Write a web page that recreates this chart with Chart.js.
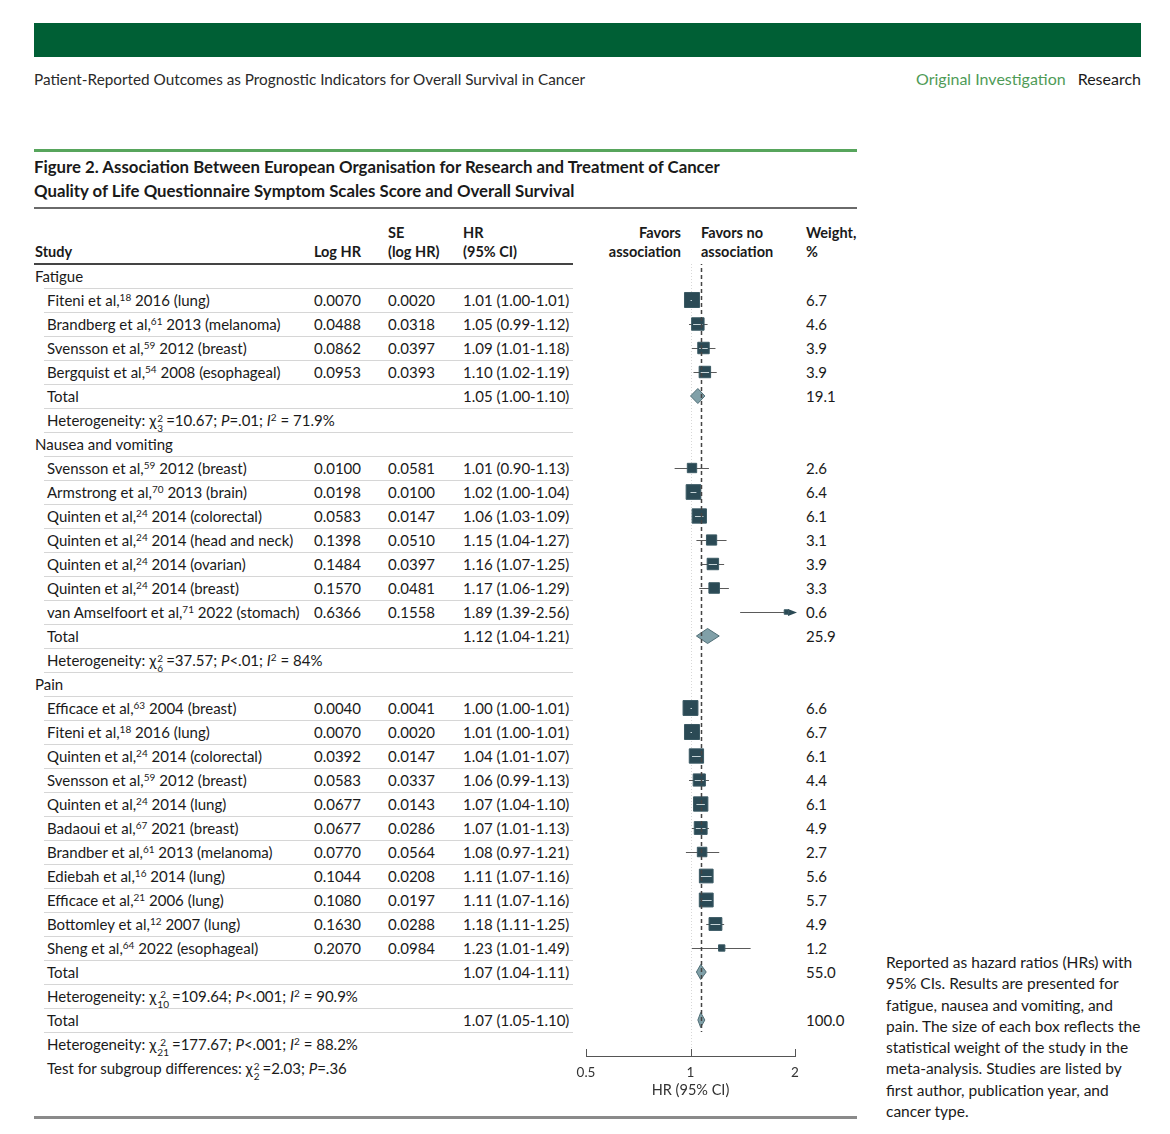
<!DOCTYPE html>
<html>
<head>
<meta charset="utf-8">
<script src="https://cdn.jsdelivr.net/npm/chart.js@4/dist/chart.umd.min.js"></script>
<style>
  body { margin: 0; background: #fff; font-family: Lato, "Open Sans", sans-serif; color: #1a1a1a; }
  #page { position: relative; width: 1170px; height: 1134px; overflow: hidden; }
  .abs { position: absolute; white-space: nowrap; }
  .hdr { font-size: 15.3px; line-height: 20px; color: #2a2a2a; }
  .title { font-size: 16.8px; line-height: 24px; font-weight: 700; color: #1a1a1a; }
  .colh { font-size: 14.5px; line-height: 19px; font-weight: 700; color: #1a1a1a; }
  .cell { font-size: 15px; line-height: 20px; height: 20px; }
  .sep { position: absolute; height: 1px; background: #d6d6d6; }
  sup { font-size: 10px; vertical-align: 5px; line-height: 0; }
  .ss { display: inline-block; vertical-align: -6px; font-size: 10px; line-height: 10px; margin: 0 3px 0 1px; text-align: center; }
  .ss span { display: block; }
  #note { font-size: 15.5px; line-height: 21.3px; color: #1a1a1a; white-space: normal; width: 258px; }
  #forest { position: absolute; left: 566px; top: 264px; }
</style>
</head>
<body>
<div id="page">
  <div class="abs" style="left:34px;top:23px;width:1107px;height:34px;background:#005f35"></div>
  <div class="abs hdr" style="left:34px;top:69px">Patient-Reported Outcomes as Prognostic Indicators for Overall Survival in Cancer</div>
  <div class="abs hdr" style="right:29px;top:69px;font-size:16px"><span style="color:#4f9b57">Original Investigation</span><span style="display:inline-block;width:12px"></span><span style="color:#1a1a1a">Research</span></div>

  <div class="abs" style="left:34px;top:149px;width:823px;height:3px;background:#57a55c"></div>
  <div class="abs title" style="left:34px;top:155px">Figure 2. Association Between European Organisation for Research and Treatment of Cancer<br>Quality of Life Questionnaire Symptom Scales Score and Overall Survival</div>
  <div class="abs" style="left:34px;top:207px;width:823px;height:2px;background:#6a6a6a"></div>

  <div class="abs colh" style="left:35px;top:242px">Study</div>
  <div class="abs colh" style="left:290px;width:71px;text-align:right;top:242px">Log HR</div>
  <div class="abs colh" style="left:388px;top:223px">SE<br>(log HR)</div>
  <div class="abs colh" style="left:463px;top:223px">HR<br>(95% CI)</div>
  <div class="abs colh" style="left:570px;width:111px;text-align:right;top:223px">Favors<br>association</div>
  <div class="abs colh" style="left:701px;top:223px">Favors no<br>association</div>
  <div class="abs colh" style="left:806px;top:223px">Weight,<br>%</div>
  <div class="abs" style="left:34px;top:263px;width:539px;height:2px;background:#444"></div>

  <div id="rows"></div>
  <canvas id="forest" width="250" height="836"></canvas>

  <div class="abs" id="note" style="left:886px;top:952px">Reported as hazard ratios (HRs) with 95% CIs. Results are presented for fatigue, nausea and vomiting, and pain. The size of each box reflects the statistical weight of the study in the meta-analysis. Studies are listed by first author, publication year, and cancer type.</div>

  <div class="abs" style="left:34px;top:1116px;width:823px;height:3px;background:#8a8a8a"></div>
</div>

<script>
// groups and studies
const groupNames = ['Fatigue', 'Nausea and vomiting', 'Pain'];
const groupSizes = [4, 7, 11];

const studyAuthors = ['Fiteni et al,', 'Brandberg et al,', 'Svensson et al,', 'Bergquist et al,',
  'Svensson et al,', 'Armstrong et al,', 'Quinten et al,', 'Quinten et al,', 'Quinten et al,', 'Quinten et al,', 'van Amselfoort et al,',
  'Efficace et al,', 'Fiteni et al,', 'Quinten et al,', 'Svensson et al,', 'Quinten et al,', 'Badaoui et al,', 'Brandber et al,',
  'Ediebah et al,', 'Efficace et al,', 'Bottomley et al,', 'Sheng et al,'];
const studyRefs = ['18', '61', '59', '54', '59', '70', '24', '24', '24', '24', '71',
  '63', '18', '24', '59', '24', '67', '61', '16', '21', '12', '64'];
const studyYears = ['2016', '2013', '2012', '2008', '2012', '2013', '2014', '2014', '2014', '2014', '2022',
  '2004', '2016', '2014', '2012', '2014', '2021', '2013', '2014', '2006', '2007', '2022'];
const studyCancers = ['lung', 'melanoma', 'breast', 'esophageal', 'breast', 'brain', 'colorectal', 'head and neck', 'ovarian', 'breast', 'stomach',
  'breast', 'lung', 'colorectal', 'breast', 'lung', 'breast', 'melanoma', 'lung', 'lung', 'lung', 'esophageal'];

const logHR = [0.0070, 0.0488, 0.0862, 0.0953,
  0.0100, 0.0198, 0.0583, 0.1398, 0.1484, 0.1570, 0.6366,
  0.0040, 0.0070, 0.0392, 0.0583, 0.0677, 0.0677, 0.0770, 0.1044, 0.1080, 0.1630, 0.2070];
const seLogHR = [0.0020, 0.0318, 0.0397, 0.0393,
  0.0581, 0.0100, 0.0147, 0.0510, 0.0397, 0.0481, 0.1558,
  0.0041, 0.0020, 0.0147, 0.0337, 0.0143, 0.0286, 0.0564, 0.0208, 0.0197, 0.0288, 0.0984];
const hr = [1.01, 1.05, 1.09, 1.10,
  1.01, 1.02, 1.06, 1.15, 1.16, 1.17, 1.89,
  1.00, 1.01, 1.04, 1.06, 1.07, 1.07, 1.08, 1.11, 1.11, 1.18, 1.23];
const hrLow = [1.00, 0.99, 1.01, 1.02,
  0.90, 1.00, 1.03, 1.04, 1.07, 1.06, 1.39,
  1.00, 1.00, 1.01, 0.99, 1.04, 1.01, 0.97, 1.07, 1.07, 1.11, 1.01];
const hrHigh = [1.01, 1.12, 1.18, 1.19,
  1.13, 1.04, 1.09, 1.27, 1.25, 1.29, 2.56,
  1.01, 1.01, 1.07, 1.13, 1.10, 1.13, 1.21, 1.16, 1.16, 1.25, 1.49];
const weights = [6.7, 4.6, 3.9, 3.9,
  2.6, 6.4, 6.1, 3.1, 3.9, 3.3, 0.6,
  6.6, 6.7, 6.1, 4.4, 6.1, 4.9, 2.7, 5.6, 5.7, 4.9, 1.2];

// subgroup totals
const subtotalHR = [1.05, 1.12, 1.07];
const subtotalLow = [1.00, 1.04, 1.04];
const subtotalHigh = [1.10, 1.21, 1.11];
const subtotalWeight = [19.1, 25.9, 55.0];
const hetDf = [3, 6, 10];
const hetChi = ['10.67', '37.57', '109.64'];
const hetP = ['=.01', '<.01', '<.001'];
const hetI2 = ['71.9%', '84%', '90.9%'];

// overall
const overallHR = 1.07, overallLow = 1.05, overallHigh = 1.10, overallWeight = 100.0;
const overallDf = 21, overallChi = '177.67', overallP = '<.001', overallI2 = '88.2%';
const testDf = 2, testChi = '2.03', testP = '=.36';

const xTicks = [0.5, 1, 2];
const xMin = 0.5, xMax = 2;

// build row list
const rows = [];
let si = 0;
groupNames.forEach((g, gi) => {
  rows.push({ kind: 'group', g: gi });
  for (let k = 0; k < groupSizes[gi]; k++) rows.push({ kind: 'study', s: si++ });
  rows.push({ kind: 'total', g: gi });
  rows.push({ kind: 'het', g: gi });
});
rows.push({ kind: 'overall' });
rows.push({ kind: 'overallHet' });
rows.push({ kind: 'test' });

const boxSide = w => 5.8 * Math.sqrt(w);
const fmtCI = (a, b, c) => `${a.toFixed(2)} (${b.toFixed(2)}-${c.toFixed(2)})`;
const chi = df => `χ<span class="ss"><span>2</span><span>${df}</span></span>`;
const eq = ' = ';

const squarePts = [], squareR = [];
rows.forEach((r, i) => {
  if (r.kind === 'study') {
    squarePts.push({ x: hr[r.s], y: i });
    squareR.push(boxSide(weights[r.s]) / Math.SQRT2);
  }
});

const forestPlugin = {
  id: 'forest',
  beforeDatasetsDraw(chart) {
    const { ctx, chartArea, scales: { x, y } } = chart;
    ctx.save();
    // faint line at HR = 1
    ctx.strokeStyle = '#d8d8d8';
    ctx.lineWidth = 1;
    ctx.setLineDash([1, 2]);
    ctx.beginPath();
    ctx.moveTo(Math.round(x.getPixelForValue(1)) + 0.5, chartArea.top);
    ctx.lineTo(Math.round(x.getPixelForValue(1)) + 0.5, chartArea.bottom);
    ctx.stroke();
    ctx.setLineDash([]);
    // whiskers
    ctx.strokeStyle = '#5a5a5a';
    rows.forEach((r, i) => {
      if (r.kind !== 'study') return;
      const py = Math.round(y.getPixelForValue(i)) + 0.5;
      const x1 = x.getPixelForValue(Math.max(hrLow[r.s], xMin));
      const over = hrHigh[r.s] > xMax;
      const x2 = over ? x.getPixelForValue(xMax) + 2 : x.getPixelForValue(hrHigh[r.s]);
      ctx.beginPath();
      ctx.moveTo(x1, py);
      ctx.lineTo(x2 - (over ? 6 : 0), py);
      ctx.stroke();
      if (over) {
        ctx.fillStyle = '#2b4a55';
        ctx.beginPath();
        ctx.moveTo(x2, py);
        ctx.lineTo(x2 - 9, py - 3.5);
        ctx.lineTo(x2 - 9, py + 3.5);
        ctx.closePath();
        ctx.fill();
      }
    });
    ctx.restore();
  },
  afterDatasetsDraw(chart) {
    const { ctx, chartArea, scales: { x, y } } = chart;
    ctx.save();
    // CI segment seen inside each box
    ctx.strokeStyle = '#c5d3d7';
    ctx.lineWidth = 1;
    rows.forEach((r, i) => {
      if (r.kind !== 'study') return;
      const half = boxSide(weights[r.s]) / 2 - 1.5;
      const cx = x.getPixelForValue(hr[r.s]);
      const a = Math.max(x.getPixelForValue(hrLow[r.s]), cx - half);
      const b = Math.min(x.getPixelForValue(Math.min(hrHigh[r.s], xMax)), cx + half);
      if (b - a < 1 || half < 4) return;
      const py = Math.round(y.getPixelForValue(i)) + 0.5;
      ctx.beginPath();
      ctx.moveTo(a, py);
      ctx.lineTo(b, py);
      ctx.stroke();
    });
    // diamonds
    const diamond = (c, lo, hi, i) => {
      const py = y.getPixelForValue(i);
      ctx.beginPath();
      ctx.moveTo(x.getPixelForValue(lo), py);
      ctx.lineTo(x.getPixelForValue(c), py - 7.5);
      ctx.lineTo(x.getPixelForValue(hi), py);
      ctx.lineTo(x.getPixelForValue(c), py + 7.5);
      ctx.closePath();
      ctx.fillStyle = '#80a0a8';
      ctx.fill();
      ctx.strokeStyle = '#506e76';
      ctx.stroke();
    };
    let overallRow = 0;
    rows.forEach((r, i) => {
      if (r.kind === 'total') diamond(subtotalHR[r.g], subtotalLow[r.g], subtotalHigh[r.g], i);
      if (r.kind === 'overall') { diamond(overallHR, overallLow, overallHigh, i); overallRow = i; }
    });
    // dashed line at the overall estimate
    const dx = Math.round(x.getPixelForValue(overallHR)) + 0.5;
    ctx.strokeStyle = '#444';
    ctx.lineWidth = 1.5;
    ctx.setLineDash([4, 3]);
    ctx.beginPath();
    ctx.moveTo(dx, chartArea.top - 3);
    ctx.lineTo(dx, y.getPixelForValue(overallRow + 0.5));
    ctx.stroke();
    ctx.setLineDash([]);
    // upward tick marks on the axis
    ctx.strokeStyle = '#555';
    ctx.lineWidth = 1;
    xTicks.forEach(v => {
      const tx = Math.round(x.getPixelForValue(v)) + 0.5;
      ctx.beginPath();
      ctx.moveTo(tx, chartArea.bottom - 7);
      ctx.lineTo(tx, chartArea.bottom);
      ctx.stroke();
    });
    ctx.restore();
  }
};

Chart.defaults.font.family = 'Lato';
const chart = new Chart(document.getElementById('forest'), {
  type: 'scatter',
  data: {
    datasets: [{
      data: squarePts,
      pointStyle: 'rect',
      pointRadius: squareR,
      pointHoverRadius: squareR,
      backgroundColor: '#2b4a55',
      borderColor: '#3b5a64',
      borderWidth: 1,
      clip: false
    }]
  },
  options: {
    responsive: false,
    animation: false,
    devicePixelRatio: 1,
    layout: { autoPadding: false, padding: { left: 20, right: 21, top: 0, bottom: 0 } },
    plugins: { legend: { display: false }, tooltip: { enabled: false } },
    scales: {
      x: {
        type: 'logarithmic',
        min: xMin,
        max: xMax,
        afterBuildTicks: s => { s.ticks = xTicks.map(v => ({ value: v })); },
        afterFit: s => { s.height = 44; },
        grid: { display: false, drawTicks: false },
        border: { display: true, color: '#555', width: 1 },
        ticks: { padding: 9, color: '#333', font: { size: 13.5 }, callback: v => String(v), autoSkip: false, maxRotation: 0 },
        title: { display: true, text: 'HR (95% CI)', color: '#333', font: { size: 14.5 }, padding: { top: 0, bottom: 1 } }
      },
      y: {
        type: 'linear',
        display: false,
        reverse: true,
        min: -0.5,
        max: 32.5
      }
    }
  },
  plugins: [forestPlugin]
});

// table text, placed on the same y scale as the marks
const canvasTop = 264;
const holder = document.getElementById('rows');
function addCell(html, style) {
  const d = document.createElement('div');
  d.className = 'abs cell';
  d.innerHTML = html;
  d.setAttribute('style', style);
  holder.appendChild(d);
}
rows.forEach((r, i) => {
  const cy = canvasTop + chart.scales.y.getPixelForValue(i);
  const top = `top:${(cy - 10).toFixed(1)}px;`;
  if (r.kind === 'group') {
    addCell(groupNames[r.g], 'left:35px;' + top);
  } else if (r.kind === 'study') {
    const s = r.s;
    addCell(`${studyAuthors[s]}<sup>${studyRefs[s]}</sup> ${studyYears[s]} (${studyCancers[s]})`, 'left:47px;' + top);
    addCell(logHR[s].toFixed(4), 'left:290px;width:71px;text-align:right;' + top);
    addCell(seLogHR[s].toFixed(4), 'left:388px;' + top);
    addCell(fmtCI(hr[s], hrLow[s], hrHigh[s]), 'left:463px;' + top);
    addCell(weights[s].toFixed(1), 'left:806px;' + top);
  } else if (r.kind === 'total') {
    addCell('Total', 'left:47px;' + top);
    addCell(fmtCI(subtotalHR[r.g], subtotalLow[r.g], subtotalHigh[r.g]), 'left:463px;' + top);
    addCell(subtotalWeight[r.g].toFixed(1), 'left:806px;' + top);
  } else if (r.kind === 'het') {
    addCell(`Heterogeneity: ${chi(hetDf[r.g])}=${hetChi[r.g]}; <i>P</i>${hetP[r.g]}; <i>I</i><sup>2</sup>${eq}${hetI2[r.g]}`, 'left:47px;' + top);
  } else if (r.kind === 'overall') {
    addCell('Total', 'left:47px;' + top);
    addCell(fmtCI(overallHR, overallLow, overallHigh), 'left:463px;' + top);
    addCell(overallWeight.toFixed(1), 'left:806px;' + top);
  } else if (r.kind === 'overallHet') {
    addCell(`Heterogeneity: ${chi(overallDf)}=${overallChi}; <i>P</i>${overallP}; <i>I</i><sup>2</sup>${eq}${overallI2}`, 'left:47px;' + top);
  } else if (r.kind === 'test') {
    addCell(`Test for subgroup differences: ${chi(testDf)}=${testChi}; <i>P</i>${testP}`, 'left:47px;' + top);
  }
  // separator below the row
  if (i < rows.length - 2) {
    const line = document.createElement('div');
    line.className = 'sep';
    const by = canvasTop + chart.scales.y.getPixelForValue(i + 0.5);
    line.setAttribute('style', `left:44px;width:529px;top:${Math.round(by)}px`);
    holder.appendChild(line);
  }
});
</script>
</body>
</html>
